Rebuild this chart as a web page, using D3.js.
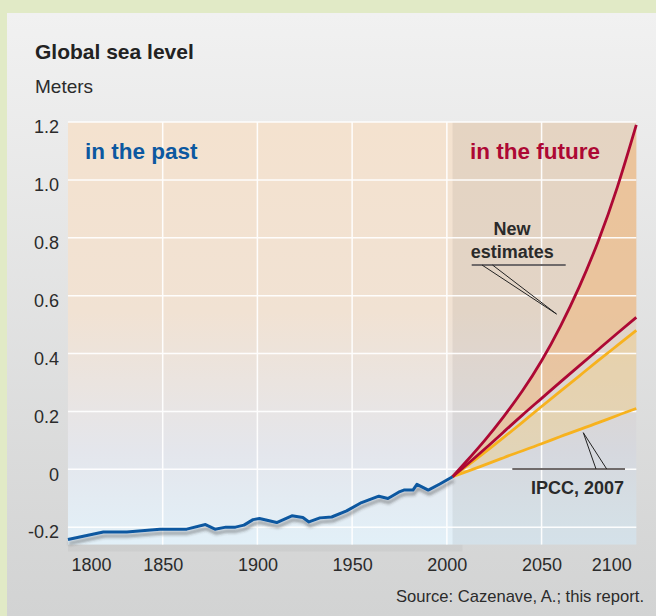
<!DOCTYPE html>
<html>
<head>
<meta charset="utf-8">
<script src="https://cdn.jsdelivr.net/npm/d3@7/dist/d3.min.js"></script>
<style>
  html, body { margin: 0; padding: 0; background: #e1eac6; }
  svg { display: block; }
  text { font-family: "Liberation Sans", Arial, Helvetica, sans-serif; }
</style>
</head>
<body>
<script>
// ---- data ----
const pastYears  = [1800, 1818.7, 1831, 1848.6, 1862.7, 1872.6, 1877.6, 1883.4, 1888.4, 1892.9, 1897.7, 1901.1, 1910.2, 1918.2, 1924, 1927.2, 1933, 1939.2, 1947.1, 1955, 1964.1, 1968.9, 1975.2, 1977.3, 1982.1, 1984.2, 1990.2, 1996.3, 2003];
const pastLevel  = [-0.243, -0.217, -0.217, -0.207, -0.207, -0.191, -0.207, -0.200, -0.200, -0.193, -0.174, -0.170, -0.184, -0.161, -0.167, -0.182, -0.168, -0.165, -0.144, -0.115, -0.093, -0.101, -0.077, -0.072, -0.072, -0.052, -0.072, -0.051, -0.026];

const futureYears = [2003, 2010, 2020, 2030, 2040, 2050, 2060, 2070, 2080, 2090, 2100];
const newHigh  = [-0.026, 0.025, 0.100, 0.182, 0.272, 0.375, 0.495, 0.632, 0.790, 0.975, 1.190];
const newLow   = [-0.026, 0.013, 0.070, 0.129, 0.188, 0.245, 0.302, 0.358, 0.414, 0.470, 0.525];
const ipccHigh = [-0.026, 0.008, 0.058, 0.110, 0.163, 0.217, 0.270, 0.323, 0.376, 0.428, 0.480];
const ipccLow  = [-0.026, -0.009, 0.015, 0.040, 0.064, 0.088, 0.113, 0.137, 0.161, 0.186, 0.210];

const xTickValues = [1800, 1850, 1900, 1950, 2000, 2050, 2100];
const xGridValues = [1850, 1900, 1950, 2000, 2050];
const yTickValues = [-0.2, 0, 0.2, 0.4, 0.6, 0.8, 1.0, 1.2];
const yTickLabels = ["-0.2", "0", "0.2", "0.4", "0.6", "0.8", "1.0", "1.2"];
const futureStart = 2003;

// ---- layout ----
const W = 656, H = 616;
const svg = d3.select("body").append("svg").attr("width", W).attr("height", H);
const defs = svg.append("defs");

const x = d3.scaleLinear().domain([1800, 2100]).range([67.95, 636.3]);
const y = d3.scaleLinear().domain([-0.26, 1.2]).range([544.5, 122]);

// gradients
const pg = defs.append("linearGradient").attr("id", "panelG").attr("x1", 0).attr("y1", 0).attr("x2", 0).attr("y2", 1);
pg.append("stop").attr("offset", "0%").attr("stop-color", "#f1f1f1");
pg.append("stop").attr("offset", "100%").attr("stop-color", "#d2d3d3");

const bg = defs.append("linearGradient").attr("id", "plotG").attr("x1", 0).attr("y1", 0).attr("x2", 0).attr("y2", 1);
bg.append("stop").attr("offset", "0%").attr("stop-color", "#f4e2cf");
bg.append("stop").attr("offset", "45%").attr("stop-color", "#f1e2d3");
bg.append("stop").attr("offset", "78%").attr("stop-color", "#e4e6ec");
bg.append("stop").attr("offset", "100%").attr("stop-color", "#e2f0f8");

const sh = defs.append("filter").attr("id", "shadow").attr("x", "-5%").attr("y", "-50%").attr("width", "110%").attr("height", "200%");
sh.append("feDropShadow").attr("dx", 1).attr("dy", 4).attr("stdDeviation", 1.6)
  .attr("flood-color", "#333").attr("flood-opacity", 0.45);

// panel
svg.append("rect").attr("x", 7).attr("y", 13).attr("width", W - 7).attr("height", H - 13).attr("fill", "url(#panelG)");

const x0 = x.range()[0], x1 = x.range()[1];
const yTop = y.range()[1], yBot = y.range()[0];

// shadow below past area
svg.append("rect").attr("x", x0).attr("y", yBot).attr("width", x(futureStart) + 10 - x0).attr("height", 7)
  .attr("fill", "#000").attr("opacity", 0.035);

// plot background
svg.append("rect").attr("x", x0).attr("y", yTop).attr("width", x1 - x0).attr("height", yBot - yTop).attr("fill", "url(#plotG)");
// future overlay
svg.append("rect").attr("x", x(futureStart)).attr("y", yTop).attr("width", x1 - x(futureStart)).attr("height", yBot - yTop)
  .attr("fill", "#000").attr("opacity", 0.06);

// bands
const futIdx = d3.range(futureYears.length);
const band = (lo, hi) => d3.area().x(i => x(futureYears[i])).y0(i => y(lo[i])).y1(i => y(hi[i])).curve(d3.curveNatural);
svg.append("path").attr("d", band(ipccLow, ipccHigh)(futIdx)).attr("fill", "#f5cd78").attr("opacity", 0.38);
svg.append("path").attr("d", band(newLow, newHigh)(futIdx)).attr("fill", "#f0b880").attr("opacity", 0.58);

// gridlines
const grid = svg.append("g").attr("stroke", "#fff").attr("stroke-width", 1.5).attr("opacity", 0.95);
grid.selectAll("line.h").data(yTickValues).join("line").attr("class", "h")
  .attr("x1", x0).attr("x2", x1).attr("y1", d => y(d)).attr("y2", d => y(d));
grid.selectAll("line.v").data(xGridValues).join("line").attr("class", "v")
  .attr("x1", d => x(d)).attr("x2", d => x(d)).attr("y1", yTop).attr("y2", yBot);

// axes
const yAxis = d3.axisLeft(y).tickValues(yTickValues).tickSize(0).tickPadding(9)
  .tickFormat((d, i) => yTickLabels[i]);
const gy = svg.append("g").attr("transform", `translate(${x0},0)`).call(yAxis);
gy.select(".domain").remove();
gy.selectAll("text").attr("font-size", 18).attr("fill", "#2b2b2b").attr("dy", "0.6em")
  .style("font-family", "'Liberation Sans', Arial, sans-serif");

const xAxis = d3.axisBottom(x).tickValues(xTickValues).tickSize(0).tickPadding(14).tickFormat(d3.format("d"));
const gx = svg.append("g").attr("transform", `translate(0,${yBot})`).call(xAxis);
gx.select(".domain").remove();
gx.selectAll("text").attr("font-size", 18).attr("fill", "#2b2b2b")
  .style("font-family", "'Liberation Sans', Arial, sans-serif");
gx.selectAll(".tick").filter(d => d === 1800).select("text").attr("text-anchor", "start").attr("x", 3);
gx.selectAll(".tick").filter(d => d === 2100).select("text").attr("text-anchor", "end").attr("x", -5);

// lines
const line = (vals) => d3.line().x(i => x(futureYears[i])).y(i => y(vals[i])).curve(d3.curveNatural);
svg.append("path").attr("d", line(ipccLow)(futIdx)).attr("fill", "none").attr("stroke", "#f7b21e").attr("stroke-width", 2.8);
svg.append("path").attr("d", line(ipccHigh)(futIdx)).attr("fill", "none").attr("stroke", "#f7b21e").attr("stroke-width", 2.8);
svg.append("path").attr("d", line(newLow)(futIdx)).attr("fill", "none").attr("stroke", "#ad0834").attr("stroke-width", 2.8);
svg.append("path").attr("d", line(newHigh)(futIdx)).attr("fill", "none").attr("stroke", "#ad0834").attr("stroke-width", 2.8);

const pastLine = d3.line().x((d, i) => x(pastYears[i])).y(d => y(d));
svg.append("path").attr("d", pastLine(pastLevel)).attr("fill", "none").attr("stroke", "#0c58a0")
  .attr("stroke-width", 3).attr("stroke-linejoin", "round").attr("filter", "url(#shadow)");

// annotations
// New estimates
svg.append("line").attr("x1", 471.7).attr("x2", 565.7).attr("y1", 265).attr("y2", 265).attr("stroke", "#6f6a6a").attr("stroke-width", 2);
svg.append("line").attr("x1", 482).attr("y1", 265).attr("x2", 556.5).attr("y2", 314).attr("stroke", "#222").attr("stroke-width", 1);
svg.append("line").attr("x1", 492.5).attr("y1", 265).attr("x2", 556.5).attr("y2", 314).attr("stroke", "#222").attr("stroke-width", 1);
svg.append("text").attr("x", 512).attr("y", 234.5).attr("text-anchor", "middle").attr("font-size", 18).attr("font-weight", "bold").attr("fill", "#2a2a2a").text("New");
svg.append("text").attr("x", 512.3).attr("y", 258.3).attr("text-anchor", "middle").attr("font-size", 18).attr("font-weight", "bold").attr("fill", "#2a2a2a").text("estimates");

// IPCC
svg.append("line").attr("x1", 512.3).attr("x2", 625).attr("y1", 469).attr("y2", 469).attr("stroke", "#6f6a6a").attr("stroke-width", 2);
svg.append("line").attr("x1", 596).attr("y1", 469).attr("x2", 583.3).attr("y2", 432.7).attr("stroke", "#222").attr("stroke-width", 1);
svg.append("line").attr("x1", 606.7).attr("y1", 469).attr("x2", 583.3).attr("y2", 432.7).attr("stroke", "#222").attr("stroke-width", 1);
svg.append("text").attr("x", 624).attr("y", 494).attr("text-anchor", "end").attr("font-size", 18).attr("font-weight", "bold").attr("fill", "#2a2a2a").text("IPCC, 2007");

// region labels
svg.append("text").attr("x", 85).attr("y", 159).attr("font-size", 22.5).attr("font-weight", "bold").attr("fill", "#0c58a0").text("in the past");
svg.append("text").attr("x", 470).attr("y", 159).attr("font-size", 22.5).attr("font-weight", "bold").attr("fill", "#ad0834").text("in the future");

// titles
svg.append("text").attr("x", 35).attr("y", 59).attr("font-size", 21).attr("font-weight", "bold").attr("fill", "#222").text("Global sea level");
svg.append("text").attr("x", 35).attr("y", 93).attr("font-size", 19).attr("fill", "#2b2b2b").text("Meters");

// source
svg.append("text").attr("x", 644).attr("y", 601.5).attr("text-anchor", "end").attr("font-size", 16.6).attr("fill", "#2b2b2b").text("Source: Cazenave, A.; this report.");
</script>
</body>
</html>
